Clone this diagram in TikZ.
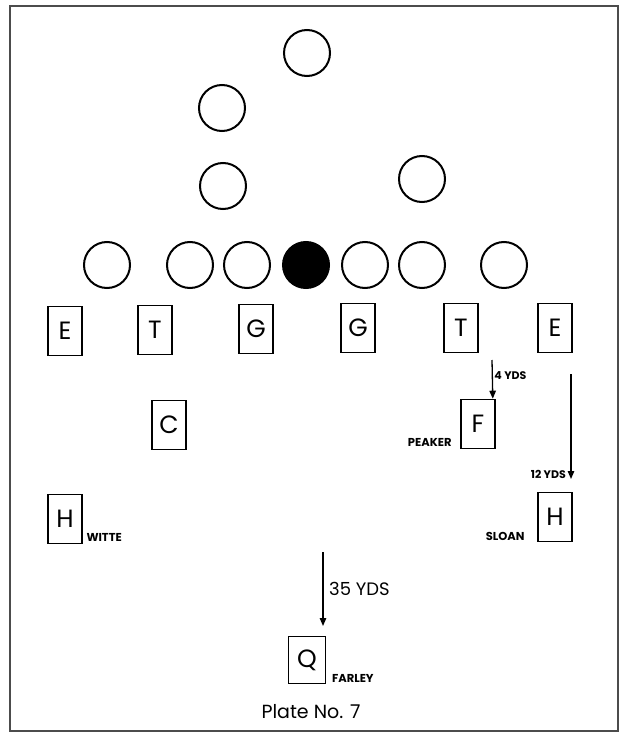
\documentclass[tikz,border=0pt]{standalone}
\usepackage{fontspec}
\setmainfont{Poppins}
\usetikzlibrary{arrows.meta, positioning}

\begin{document}
\begin{tikzpicture}[
    x=1pt, y=-1pt,
    defender/.style={circle, draw, line width=2pt, minimum size=46pt, inner sep=0pt},
    player/.style={rectangle, draw, line width=1.6pt, minimum width=34pt, minimum height=49pt, inner sep=0pt, font=\fontsize{25}{25}\selectfont},
    who/.style={inner sep=0.5pt, font=\bfseries\fontsize{11.5}{11.5}\selectfont},
    yards/.style={inner sep=1.5pt, font=\bfseries\fontsize{11}{11}\selectfont},
    run/.style={line width=1.3pt, -{Triangle[length=8pt, width=6.5pt]}}
]
    \useasboundingbox (0,0) rectangle (622,733);
    \draw[line width=1.8pt, black!70] (10,6) rectangle (618,731);

    % Defence
    \node (dsafe) [defender] at (307,53) {};
    \node (dhalf) [defender] at (222,108) {};
    \node (dback) [defender] at (223,186) {};
    \node (dright) [defender] at (422,179) {};
    \node (dl1) [defender] at (107,265) {};
    \node (dl2) [defender] at (190,265) {};
    \node (dl3) [defender] at (247,265) {};
    \node (dl4) [defender, fill=black] at (306,265) {};
    \node (dl5) [defender] at (365,265) {};
    \node (dl6) [defender] at (422,265) {};
    \node (dl7) [defender] at (504,265) {};

    % Offence line
    \node (le) [player] at (65,331) {E};
    \node (lt) [player] at (155,330) {T};
    \node (lg) [player] at (256,329) {G};
    \node (rg) [player] at (358,328) {G};
    \node (rt) [player] at (461,328) {T};
    \node (re) [player] at (555,328) {E};

    % Backs
    \node (ctr) [player] at (169,425) {C};
    \node (fb) [player] at (478,424) {F};
    \node (lh) [player] at (65,519) {H};
    \node (rh) [player] at (555,517) {H};
    \node (qb) [player, minimum width=37pt, minimum height=47pt] at (307,660) {Q};

    \node (witte) [who, anchor=south west] at ([xshift=3pt, yshift=2pt]lh.south east) {WITTE};
    \node (peaker) [who, anchor=south east] at ([xshift=-8pt, yshift=2pt]fb.south west) {PEAKER};
    \node (sloan) [who, anchor=south east] at ([xshift=-12pt, yshift=1pt]rh.south west) {SLOAN};
    \node (farley) [who, anchor=south west] at ([xshift=5pt, yshift=1pt]qb.south east) {FARLEY};

    % Depth arrows
    \coordinate (fourtop) at (492,360);
    \coordinate (twelvetop) at (571,374);
    \coordinate (twelvetip) at (571,479);
    \coordinate (deeptop) at (323,552);
    \coordinate (deeptip) at (323,626);
    \draw [run] (fourtop) -- ([xshift=-3pt]fb.north east)
        node[pos=0.4, right, yards] {4 YDS};
    \draw [run] (twelvetop) -- (twelvetip)
        node[pos=0.96, left, yards, xshift=-3pt] {12 YDS};
    \draw [run] (deeptop) -- (deeptip)
        node[pos=0.5, right, yards, xshift=4pt, font=\fontsize{18}{18}\selectfont] {35 YDS};

    \node (plate) [font=\fontsize{19}{19}\selectfont] at (311,712) {Plate No. 7};

\end{tikzpicture}
\end{document}
